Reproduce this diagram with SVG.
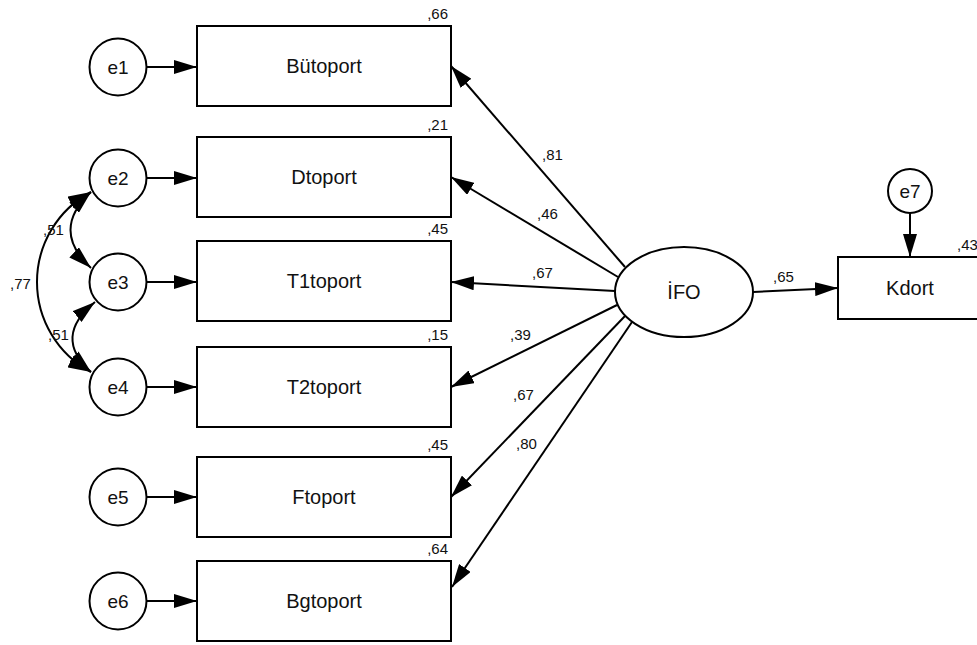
<svg xmlns="http://www.w3.org/2000/svg" width="977" height="645" viewBox="0 0 977 645">
<style>
.box{fill:#fff;stroke:#000;stroke-width:2}
.circ{fill:#fff;stroke:#000;stroke-width:2}
.lbl{font-family:"Liberation Sans",Arial,sans-serif;font-size:20px;fill:#111;text-anchor:middle}
.el{font-family:"Liberation Sans",Arial,sans-serif;font-size:19px;fill:#111;text-anchor:middle}
.num{font-family:"Liberation Sans",Arial,sans-serif;font-size:15px;fill:#111}
.r2{text-anchor:end}
.ln{fill:none;stroke:#000;stroke-width:2}
</style>
<defs>
<marker id="ah" markerUnits="userSpaceOnUse" markerWidth="23" markerHeight="14" viewBox="0 0 23 14" refX="23" refY="7" orient="auto-start-reverse">
<path d="M0,0 L23,7 L0,14 z" fill="#000"/>
</marker>
</defs>
<rect width="977" height="645" fill="#fff"/>

<g id="connectors">
<line class="ln" x1="147" y1="67" x2="197" y2="67" marker-end="url(#ah)"/>
<line class="ln" x1="147" y1="178" x2="197" y2="178" marker-end="url(#ah)"/>
<line class="ln" x1="147" y1="282" x2="197" y2="282" marker-end="url(#ah)"/>
<line class="ln" x1="147" y1="387" x2="197" y2="387" marker-end="url(#ah)"/>
<line class="ln" x1="147" y1="497" x2="197" y2="497" marker-end="url(#ah)"/>
<line class="ln" x1="147" y1="601" x2="197" y2="601" marker-end="url(#ah)"/>
<line class="ln" x1="625" y1="267" x2="451" y2="66" marker-end="url(#ah)"/>
<line class="ln" x1="618" y1="277" x2="451" y2="177" marker-end="url(#ah)"/>
<line class="ln" x1="615" y1="291" x2="451" y2="282" marker-end="url(#ah)"/>
<line class="ln" x1="617" y1="305" x2="451" y2="387" marker-end="url(#ah)"/>
<line class="ln" x1="625" y1="316" x2="451" y2="497" marker-end="url(#ah)"/>
<line class="ln" x1="632" y1="322" x2="452" y2="587" marker-end="url(#ah)"/>
<line class="ln" x1="753" y1="292" x2="838" y2="288" marker-end="url(#ah)"/>
<line class="ln" x1="910" y1="213" x2="910" y2="257" marker-end="url(#ah)"/>
<path class="ln" d="M91,192 Q50,230 91,268" marker-start="url(#ah)" marker-end="url(#ah)"/>
<path class="ln" d="M95,302 Q52,337 91,372" marker-start="url(#ah)" marker-end="url(#ah)"/>
<path class="ln" d="M91,192 A102,102 0 0 0 91,372" marker-start="url(#ah)" marker-end="url(#ah)"/>
<text class="num" x="542" y="160">,81</text>
<text class="num" x="537" y="219">,46</text>
<text class="num" x="532" y="278">,67</text>
<text class="num" x="510" y="340">,39</text>
<text class="num" x="513" y="400">,67</text>
<text class="num" x="516" y="449">,80</text>
<text class="num" x="773" y="282">,65</text>
<text class="num" x="10" y="289">,77</text>
<text class="num" x="43" y="235">,51</text>
<text class="num" x="48" y="340">,51</text>
</g>

<g id="e1"><circle class="circ" cx="118" cy="67" r="28.5"/><text class="el" x="118" y="74">e1</text></g>
<g id="e2"><circle class="circ" cx="118" cy="178" r="28.5"/><text class="el" x="118" y="185">e2</text></g>
<g id="e3"><circle class="circ" cx="118" cy="282" r="28.5"/><text class="el" x="118" y="289">e3</text></g>
<g id="e4"><circle class="circ" cx="118" cy="387" r="28.5"/><text class="el" x="118" y="394">e4</text></g>
<g id="e5"><circle class="circ" cx="118" cy="497" r="28.5"/><text class="el" x="118" y="504">e5</text></g>
<g id="e6"><circle class="circ" cx="118" cy="601" r="28.5"/><text class="el" x="118" y="608">e6</text></g>
<g id="e7"><circle class="circ" cx="910" cy="191" r="22"/><text class="el" x="910" y="198">e7</text></g>

<g id="Butoport"><rect class="box" x="197" y="26" width="254" height="80"/><text class="lbl" x="324" y="73">Bütoport</text><text class="num r2" x="448" y="19">,66</text></g>
<g id="Dtoport"><rect class="box" x="197" y="137" width="254" height="80"/><text class="lbl" x="324" y="184">Dtoport</text><text class="num r2" x="448" y="130">,21</text></g>
<g id="T1toport"><rect class="box" x="197" y="241" width="254" height="80"/><text class="lbl" x="324" y="288">T1toport</text><text class="num r2" x="448" y="234">,45</text></g>
<g id="T2toport"><rect class="box" x="197" y="347" width="254" height="80"/><text class="lbl" x="324" y="394">T2toport</text><text class="num r2" x="448" y="340">,15</text></g>
<g id="Ftoport"><rect class="box" x="197" y="457" width="254" height="80"/><text class="lbl" x="324" y="504">Ftoport</text><text class="num r2" x="448" y="450">,45</text></g>
<g id="Bgtoport"><rect class="box" x="197" y="561" width="254" height="80"/><text class="lbl" x="324" y="608">Bgtoport</text><text class="num r2" x="448" y="554">,64</text></g>

<g id="IFO"><ellipse class="circ" cx="684" cy="292" rx="69" ry="45"/><text class="lbl" x="684" y="299">İFO</text></g>
<g id="Kdort"><rect class="box" x="838" y="257" width="150" height="62"/><text class="lbl" x="910" y="295">Kdort</text><text class="num" x="957" y="250">,43</text></g>
</svg>
